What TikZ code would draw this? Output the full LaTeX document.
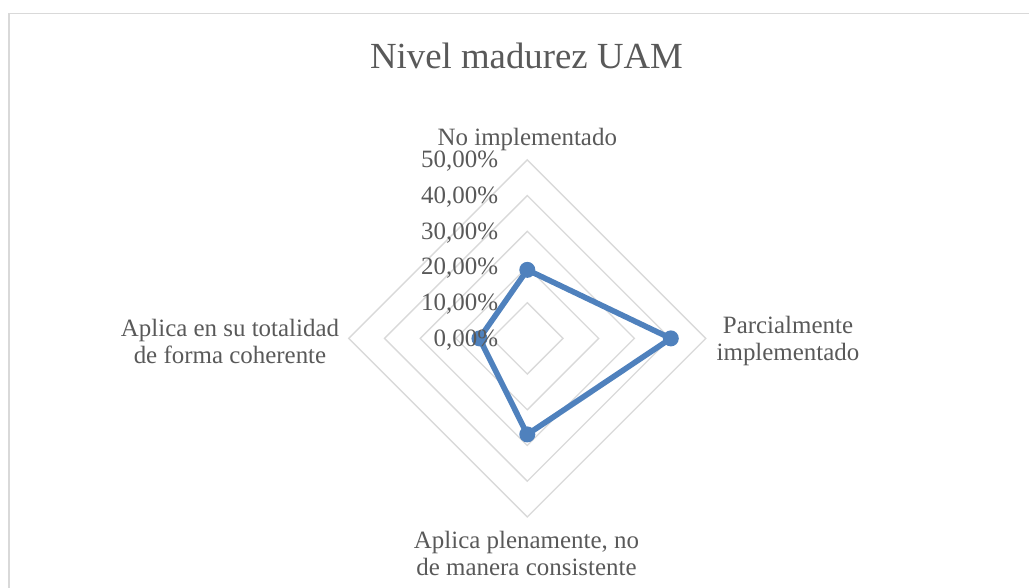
\documentclass[tikz,border=0pt]{standalone}
\usepackage{fontspec}
\setmainfont{Liberation Serif}
\usetikzlibrary{positioning}
\definecolor{txtgray}{HTML}{595959}
\definecolor{gridgray}{HTML}{D9D9D9}
\definecolor{serieblue}{HTML}{4F81BD}
\newcommand\rstep{35.7}

\begin{document}
\begin{tikzpicture}[x=0.75pt,y=0.75pt,
    gridline/.style={draw=gridgray,line width=1pt},
    serie/.style={draw=serieblue,line width=4.2pt,line join=round},
    dot/.style={circle,fill=serieblue,inner sep=0pt,minimum size=12pt},
    ticklbl/.style={anchor=east,inner sep=0pt,text=txtgray,font=\fontsize{18.7}{20}\selectfont},
    axlbl/.style={inner sep=0pt,align=center,text=txtgray,font=\fontsize{18.7}{20}\selectfont}]
  \useasboundingbox (-527.3,-249.6) rectangle (501.7,338.4);
  \draw[gridgray,line width=1pt] (-518.3,-249.6) -- (-518.3,324.9) -- (501.7,324.9);
  \coordinate (c) at (0,0);
  % rejilla
  \foreach \k in {1,...,5}
    \draw[gridline] (90:\k*\rstep) -- (0:\k*\rstep) -- (270:\k*\rstep) -- (180:\k*\rstep) -- cycle;
  % serie
  \node[dot] (noimp) at (90:1.92*\rstep) {};
  \node[dot] (parc) at (0:4.02*\rstep) {};
  \node[dot] (plena) at (270:2.69*\rstep) {};
  \node[dot] (total) at (180:1.34*\rstep) {};
  \draw[serie] (noimp.center) -- (parc.center) -- (plena.center) -- (total.center) -- cycle;
  % etiquetas
  \foreach \k/\v in {0/0,1/10,2/20,3/30,4/40,5/50}
    \node[ticklbl] (t\k) at (-29,\k*\rstep-1.5) {\v,00\%};
  \node[axlbl,anchor=base] (lnoimp) at (0,192.4) {No implementado};
  \node[axlbl] (lparc) at (260.7,-2.5) {Parcialmente\\implementado};
  \node[axlbl] (lplena) at (-0.8,-215) {Aplica plenamente, no\\de manera consistente};
  \node[axlbl] (ltotal) at (-297.3,-3) {Aplica en su totalidad\\de forma coherente};
  \node[anchor=base,inner sep=0pt,text=txtgray,font=\fontsize{27.6}{30}\selectfont] (titulo) at (-0.8,269.4) {Nivel madurez UAM};
\end{tikzpicture}
\end{document}
